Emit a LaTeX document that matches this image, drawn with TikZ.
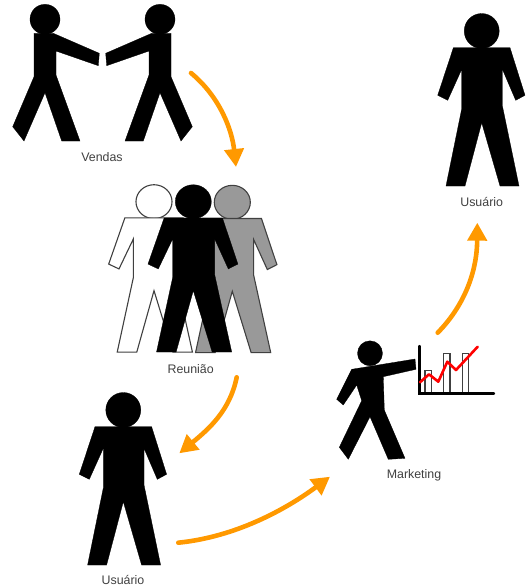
\documentclass[tikz,border=0pt]{standalone}
\usepackage{fontspec}
\setmainfont{Liberation Sans}
\usepackage{xcolor}
\usetikzlibrary{arrows.meta}
\definecolor{laranja}{HTML}{FF9900}
\definecolor{cinza}{HTML}{999999}
\definecolor{traco}{HTML}{404040}

\begin{document}
\begin{tikzpicture}[%
    x=1pt,y=-1pt,
    rotulo/.style={%
        font=\fontsize{12.4pt}{14pt}\selectfont,
        text=traco,
        inner sep=0pt,
    },
    seta/.style={%
        draw=laranja,
        line width=4.6pt,
        line cap=round,
        -{Triangle[width=19pt,length=18pt]},
    },
    preto/.style={fill=black,draw=black,line width=0.3pt},
    contorno/.style={draw=traco,line width=1.1pt},
    reuniao/.style={xscale=1.03,yscale=0.97},
    % boneco em pe, origem no centro da cabeca
    pessoa/.pic={%
        \path[pic actions] (0,0) circle[radius=17.5];
        \path[pic actions] (-28.3,16.7) -- (28.3,16.7) -- (43.3,64.3) -- (34,69.3)
            -- (20.7,38.3) -- (20.7,75) -- (37.3,155) -- (18.3,155) -- (0,91.7)
            -- (-16.7,155) -- (-35.7,155) -- (-20,78) -- (-20,38.3) -- (-34,69.3)
            -- (-44,64.3) -- cycle;
    },
    % boneco com o braco estendido
    vendedor/.pic={%
        \path[pic actions] (0,0) circle[radius=15];
        \path[pic actions] (-11,14) -- (8.3,14) -- (54.3,34) -- (53.3,46.4)
            -- (11,31.7) -- (11,55.7) -- (35,121.7) -- (16.7,121.7) -- (0,73.4)
            -- (-21,121.7) -- (-32.3,107.4) -- (-11,57.4) -- cycle;
    },
]
\useasboundingbox (0,0) rectangle (526,587);

% Vendas
\pic[preto] at (45,19.3) {vendedor};
\pic[preto,xscale=-1] at (160,19.3) {vendedor};
\node[rotulo] (vendas) at (102,157) {Vendas};

% Reuniao
\pic[contorno,fill=white,reuniao] at (154,201.7) {pessoa};
\pic[contorno,fill=cinza,reuniao] at (232.3,202.3) {pessoa};
\pic[preto,reuniao] at (193.3,201.7) {pessoa};
\node[rotulo] (reuniao) at (190.7,369) {Reunião};

% Usuario
\pic[preto] at (123.3,410) {pessoa};
\node[rotulo] (usuarioA) at (123,580) {Usuário};
\pic[preto] at (481.7,31) {pessoa};
\node[rotulo] (usuarioB) at (481.7,201.5) {Usuário};

% Marketing
\fill[preto] (370,353.3) circle[radius=12.5];
\fill[preto] (351.7,369.3) -- (415,359) -- (416,369.3) -- (383.3,376.7) -- (384.3,410)
    -- (405,458.3) -- (388.3,459.3) -- (370,416.7) -- (348.3,459.3) -- (339.3,447.3)
    -- (361.7,400.7) -- (356.7,385) -- (343.3,405) -- (336.7,399.3) -- cycle;
\node[rotulo] (marketing) at (414,475.5) {Marketing};

% grafico
\foreach \xa/\ya/\xb in {425/370.7/431.7, 443.7/353.3/450, 462.3/353.3/468.7}
    \draw[traco,line width=1.2pt,fill=white] (\xa,\ya) rectangle (\xb,392.7);
\draw[black,line width=2.4pt,line cap=round] (419.3,346) -- (419.3,393.3) -- (494,393.3);
\draw[red,line width=2.6pt,line cap=round,line join=round] (420,382.3) -- (429,374.3)
    -- (438.3,381.7) -- (447.3,361.7) -- (456,370) -- (477.7,346.7);

% setas
\coordinate (a1) at (191,73);
\coordinate (a2) at (236,167);
\coordinate (b1) at (236.7,377.3);
\coordinate (b2) at (179.3,453.3);
\coordinate (c1) at (178.3,542.7);
\coordinate (c2) at (330,476.7);
\coordinate (d1) at (437.7,332.7);
\coordinate (d2) at (477.3,222.7);
\draw[seta] (a1) .. controls (220,97) and (232,130) .. (a2);
\draw[seta] (b1) .. controls (230,410) and (210,428) .. (b2);
\draw[seta] (c1) .. controls (235,537) and (285,510) .. (c2);
\draw[seta] (d1) .. controls (462,308) and (477,275) .. (d2);

\end{tikzpicture}
\end{document}
